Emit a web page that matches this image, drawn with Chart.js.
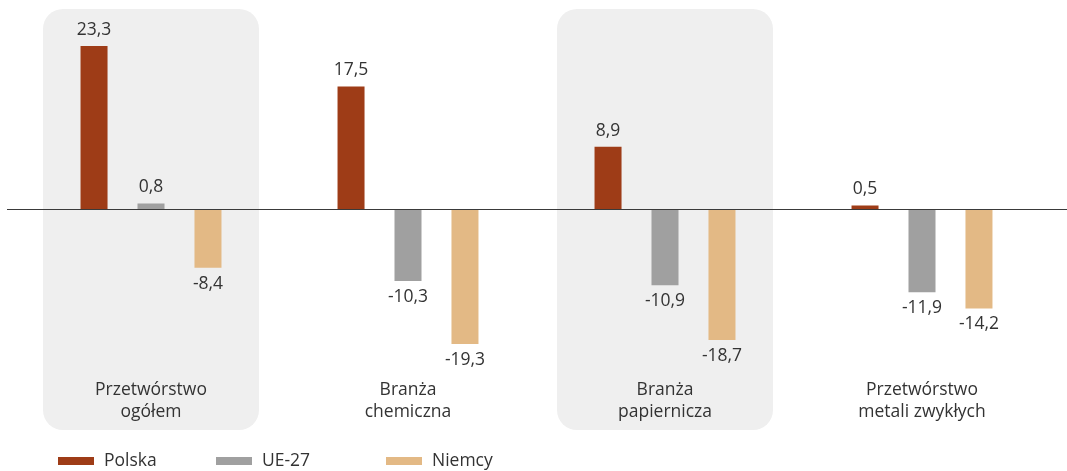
<!DOCTYPE html>
<html>
<head>
<meta charset="utf-8">
<script src="https://cdn.jsdelivr.net/npm/chart.js@4/dist/chart.umd.min.js"></script>
<style>
  html, body { margin: 0; padding: 0; background: #fff; }
  #wrap { width: 1067px; height: 471px; position: relative; }
</style>
</head>
<body>
<div id="wrap"><canvas id="myChart"></canvas></div>
<script>
// categories and series
var categories = [
  ["Przetwórstwo", "ogółem"],
  ["Branża", "chemiczna"],
  ["Branża", "papiernicza"],
  ["Przetwórstwo", "metali zwykłych"]
];
var polska = [23.3, 17.5, 8.9, 0.5];
var ue27 = [0.8, -10.3, -10.9, -11.9];
var niemcy = [-8.4, -19.3, -18.7, -14.2];
var seriesNames = ["Polska", "UE-27", "Niemcy"];
var seriesColors = ["#9e3c17", "#a0a0a0", "#e3b985"];
var shadedCategories = [0, 2];

var FONT = "'Open Sans', sans-serif";
var TEXT = "#333333";

function fmt(v) {
  return v.toFixed(1).replace(".", ",");
}

// grey rounded boxes behind some categories + the zero line
var backgroundPlugin = {
  id: "bgBoxes",
  beforeDatasetsDraw: function (chart) {
    var c = chart.ctx, x = chart.scales.x, area = chart.chartArea;
    c.save();
    c.fillStyle = "#efefef";
    shadedCategories.forEach(function (i) {
      var cx = x.getPixelForValue(i);
      c.beginPath();
      c.roundRect(cx - 108, area.top, 216, area.bottom - area.top, 20);
      c.fill();
    });
    c.restore();
  },
  afterDatasetsDraw: function (chart) {
    var c = chart.ctx, y = chart.scales.y;
    var y0 = Math.round(y.getPixelForValue(0)) + 0.5;
    c.save();
    c.strokeStyle = "#3a3a3a";
    c.lineWidth = 1.2;
    c.beginPath();
    c.moveTo(7, y0);
    c.lineTo(chart.width, y0);
    c.stroke();
    c.restore();
  }
};

// value labels, category labels and legend
var labelPlugin = {
  id: "labels",
  afterDraw: function (chart) {
    var c = chart.ctx, x = chart.scales.x;
    c.save();
    c.fillStyle = TEXT;
    c.font = "17.5px " + FONT;
    c.textAlign = "center";
    c.textBaseline = "middle";
    chart.data.datasets.forEach(function (ds, di) {
      var meta = chart.getDatasetMeta(di);
      meta.data.forEach(function (bar, i) {
        var v = ds.data[i];
        var ty = v >= 0 ? bar.y - 16 : bar.y + 16;
        c.fillText(fmt(v), bar.x, ty);
      });
    });

    // category names
    categories.forEach(function (lines, i) {
      var cx = x.getPixelForValue(i);
      lines.forEach(function (t, k) {
        c.fillText(t, cx, 390 + k * 22);
      });
    });

    // legend
    var lx = [58, 216, 386];
    seriesNames.forEach(function (n, i) {
      c.fillStyle = seriesColors[i];
      c.fillRect(lx[i], 457, 36, 8);
      c.fillStyle = TEXT;
      c.textAlign = "left";
      c.fillText(n, lx[i] + 46, 461);
    });
    c.restore();
  }
};

var ctx = document.getElementById("myChart").getContext("2d");

var myChart = new Chart(ctx, {
  type: "bar",
  data: {
    labels: categories,
    datasets: [
      { label: seriesNames[0], data: polska, backgroundColor: seriesColors[0] },
      { label: seriesNames[1], data: ue27, backgroundColor: seriesColors[1] },
      { label: seriesNames[2], data: niemcy, backgroundColor: seriesColors[2] }
    ]
  },
  options: {
    responsive: true,
    maintainAspectRatio: false,
    animation: false,
    categoryPercentage: 0.665,
    barPercentage: 0.474,
    layout: { padding: { left: 22.5, right: 16.5, top: 9, bottom: 41 } },
    scales: {
      x: { display: false },
      y: { display: false, min: -31.57, max: 28.57 }
    },
    plugins: {
      legend: { display: false },
      tooltip: { enabled: false }
    }
  },
  plugins: [backgroundPlugin, labelPlugin]
});
</script>
</body>
</html>
